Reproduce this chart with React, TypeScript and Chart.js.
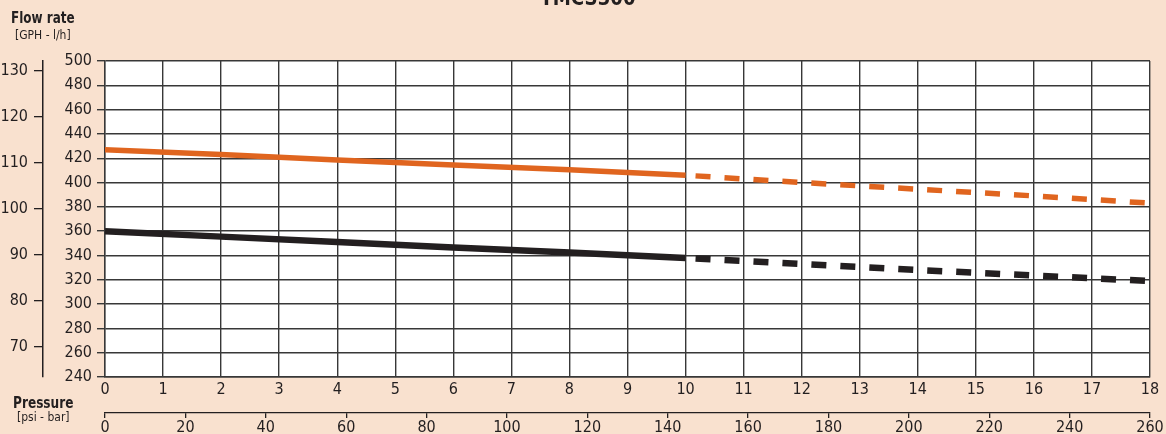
import React, { useEffect, useRef } from "react";
import { Chart, registerables } from "chart.js";

Chart.register(...registerables);

// ---- data ----
const TITLE = "TMCS300";
const PRESSURE_SOLID = [0, 2, 4, 6, 8, 10];
const ORANGE_SOLID = [427, 423, 418.5, 414.5, 410.5, 406];
const BLACK_SOLID = [360, 355.5, 351, 346.5, 342.5, 338];
const PRESSURE_DASHED = [10, 12, 14, 16, 18];
const ORANGE_DASHED = [406, 400, 394.5, 389, 383];
const BLACK_DASHED = [338, 333, 328, 323.5, 319];

const BAR_MIN = 0;
const BAR_MAX = 18;
const LH_MIN = 240;
const LH_MAX = 500;
const LH_STEP = 20;
const GPH_TICKS = [70, 80, 90, 100, 110, 120, 130];
const LH_PER_GPH = 3.785;
const PSI_MIN = 0;
const PSI_MAX = 260;
const PSI_STEP = 20;

// ---- styles ----
const FONT = "'Liberation Sans Narrow', 'DejaVu Sans Condensed', 'Liberation Sans', sans-serif";
const BG = "#f9e1cf";
const INK = "#231f20";
const GRID = "#383838";
const ORANGE = "#e0651f";

const pts = (xs: number[], ys: number[]) => xs.map((x, i) => ({ x, y: ys[i] }));

function condensedText(ctx: CanvasRenderingContext2D, text: string, x: number, y: number, sx: number) {
  ctx.save();
  ctx.translate(x, y);
  ctx.scale(sx, 1);
  ctx.fillText(text, 0, 0);
  ctx.restore();
}

const decorPlugin = {
  id: "decor",
  beforeDraw(chart: any) {
    const { ctx, chartArea } = chart;
    ctx.save();
    ctx.fillStyle = "#ffffff";
    ctx.fillRect(chartArea.left, chartArea.top, chartArea.right - chartArea.left, chartArea.bottom - chartArea.top);
    ctx.restore();
  },
  afterDraw(chart: any) {
    const ctx = chart.ctx;
    ctx.save();
    ctx.fillStyle = INK;
    ctx.textBaseline = "alphabetic";
    ctx.textAlign = "center";
    ctx.font = `bold 22px ${FONT}`;
    condensedText(ctx, TITLE, 588, 5, 0.92);
    ctx.textAlign = "left";
    ctx.font = `bold 15px ${FONT}`;
    condensedText(ctx, "Flow rate", 11, 23, 0.89);
    ctx.font = `12px ${FONT}`;
    ctx.fillText("[GPH - l/h]", 15, 39);
    ctx.font = `bold 15px ${FONT}`;
    condensedText(ctx, "Pressure", 13, 408, 0.9);
    ctx.font = `12px ${FONT}`;
    ctx.fillText("[psi - bar]", 17, 421);
    ctx.restore();
  },
};

export default function App() {
  const ref = useRef<HTMLCanvasElement | null>(null);

  useEffect(() => {
    if (!ref.current) return;
    const tickFont = { family: FONT, size: 16 };
    const chart = new Chart(ref.current, {
      type: "line",
      data: {
        datasets: [
          {
            data: pts(PRESSURE_SOLID, ORANGE_SOLID),
            borderColor: ORANGE,
            borderWidth: 5.5,
            pointRadius: 0,
            xAxisID: "x",
            yAxisID: "y",
          },
          {
            data: pts(PRESSURE_DASHED, ORANGE_DASHED),
            borderColor: ORANGE,
            borderWidth: 5.5,
            borderDash: [15, 14],
            borderDashOffset: -10,
            pointRadius: 0,
            xAxisID: "x",
            yAxisID: "y",
          },
          {
            data: pts(PRESSURE_SOLID, BLACK_SOLID),
            borderColor: INK,
            borderWidth: 6.5,
            pointRadius: 0,
            xAxisID: "x",
            yAxisID: "y",
          },
          {
            data: pts(PRESSURE_DASHED, BLACK_DASHED),
            borderColor: INK,
            borderWidth: 6.5,
            borderDash: [15, 14],
            borderDashOffset: -10,
            pointRadius: 0,
            xAxisID: "x",
            yAxisID: "y",
          },
        ],
      },
      options: {
        animation: false,
        responsive: false,
        devicePixelRatio: 1,
        layout: { padding: { top: 61, right: 16, left: 0, bottom: 0 } },
        plugins: { legend: { display: false }, tooltip: { enabled: false }, title: { display: false } },
        scales: {
          x: {
            type: "linear",
            position: "bottom",
            weight: 0,
            min: BAR_MIN,
            max: BAR_MAX,
            ticks: { stepSize: 1, font: tickFont, color: INK, padding: 3, maxRotation: 0, autoSkip: false },
            grid: { color: GRID, lineWidth: 1.4, drawTicks: false },
            border: { color: GRID, width: 1.4 },
            afterFit(s: any) {
              s.height = 36;
            },
          },
          x2: {
            type: "linear",
            position: "bottom",
            weight: 1,
            min: PSI_MIN,
            max: PSI_MAX,
            ticks: { stepSize: PSI_STEP, font: tickFont, color: INK, padding: 0, maxRotation: 0, autoSkip: false },
            grid: { drawOnChartArea: false, drawTicks: true, tickLength: 5, color: INK, lineWidth: 1.3 },
            border: { color: INK, width: 1.3 },
            afterFit(s: any) {
              s.height = 21;
            },
          },
          y: {
            type: "linear",
            position: "left",
            weight: 0,
            min: LH_MIN,
            max: LH_MAX,
            ticks: { stepSize: LH_STEP, font: tickFont, color: INK, padding: 5, autoSkip: false },
            grid: { color: GRID, lineWidth: 1.4, tickLength: 8 },
            border: { color: GRID, width: 1.4 },
            afterFit(s: any) {
              s.width = 62;
            },
          },
          y2: {
            type: "linear",
            position: "left",
            weight: 1,
            min: LH_MIN / LH_PER_GPH,
            max: LH_MAX / LH_PER_GPH,
            afterBuildTicks(s: any) {
              s.ticks = GPH_TICKS.map((v) => ({ value: v }));
            },
            ticks: { font: tickFont, color: INK, padding: 6, autoSkip: false },
            grid: { drawOnChartArea: false, tickLength: 9, color: INK, lineWidth: 1.3 },
            border: { color: INK, width: 1.5 },
            afterFit(s: any) {
              s.width = 43;
            },
          },
        },
      },
      plugins: [decorPlugin],
    } as any);
    return () => chart.destroy();
  }, []);

  return (
    <div style={{ position: "fixed", left: 0, top: 0, width: 1166, height: 434, background: BG }}>
      <canvas ref={ref} width={1166} height={434} style={{ width: 1166, height: 434, display: "block" }} />
    </div>
  );
}
